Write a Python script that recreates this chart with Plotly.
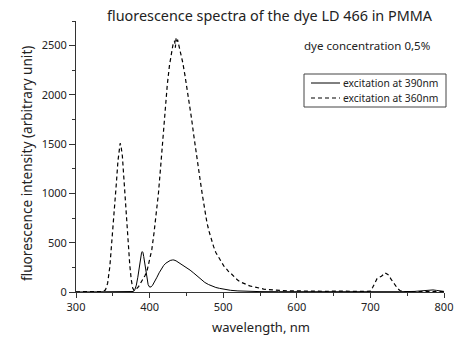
import plotly.graph_objects as go

# excitation at 390 nm (solid)
wl_390 = [300, 320, 340, 360, 370, 376, 378, 380, 382, 384, 386, 388, 389, 390, 391, 392, 394, 396, 398, 400, 402, 404,
          407, 410, 413, 416, 419, 422, 425, 428, 431, 433, 436, 440, 445, 450, 455, 460, 465, 470, 475, 480, 485,
          490, 495, 500, 505, 510, 520, 530, 540, 550, 575, 600, 650, 700, 740, 760, 770, 775,
          780, 785, 790, 795, 800]
int_390 = [0, 0, 0, 0, 0, 2, 5, 25, 70, 150, 260, 360, 395, 410, 400, 360, 260, 150, 75, 50, 52, 68,
           105, 150, 195, 235, 268, 292, 310, 320, 325, 325, 316, 298, 272, 245, 222, 192, 158, 122, 97, 76, 58,
           46, 37, 29, 22, 17, 11, 7, 5, 4, 3, 2, 2, 2, 3, 6, 14, 20,
           23, 21, 16, 10, 6]

# excitation at 360 nm (dashed)
wl_360 = [300, 310, 320, 330, 335, 340, 343, 346, 349, 352, 355, 357, 359, 360, 361, 363, 365,
          367, 369, 371, 373, 375, 377, 379, 382, 385, 388, 391, 394, 397, 400, 403, 406, 409,
          412, 415, 418, 421, 424, 427, 430, 432, 434, 435, 436, 437, 438, 440, 442, 445, 448,
          451, 454, 457, 460, 463, 466, 469, 472, 475, 478, 481, 484, 487, 490, 493, 496, 499,
          502, 505, 508, 511, 514, 517, 520, 524, 528, 532, 536, 540, 545, 550, 555, 560, 565,
          570, 575, 580, 590, 600, 610, 620, 630, 640, 650, 660, 670, 680, 690, 695, 700, 703,
          706, 709, 712, 715, 718, 720, 722, 725, 728, 731, 734, 737, 740, 743, 746, 750, 760,
          770, 780, 790, 800]
int_360 = [2, 4, 1, 3, 5, 20, 90, 260, 520, 820, 1120, 1330, 1480, 1510, 1490, 1380, 1160,
           920, 680, 460, 280, 130, 40, 15, 30, 55, 90, 135, 170, 230, 320, 430, 600, 780,
           1000, 1270, 1560, 1860, 2100, 2300, 2430, 2520, 2550, 2480, 2575, 2540, 2560, 2500, 2420, 2330, 2200,
           2060, 1930, 1760, 1590, 1420, 1250, 1120, 970, 830, 700, 610, 530, 460, 400, 360, 320, 290,
           250, 230, 200, 185, 160, 140, 118, 100, 85, 72, 62, 55, 45, 38, 30, 26, 22,
           18, 16, 14, 12, 10, 12, 8, 10, 7, 9, 6, 8, 7, 6, 5, 8, 45,
           95, 135, 150, 160, 180, 195, 185, 170, 130, 95, 65, 35, 15, 6, 4, 4, 5,
           4, 6, 5, 4]

series_names = ["excitation at 390nm", "excitation at 360nm"]
x_ticks = [300, 400, 500, 600, 700, 800]
y_ticks = [0, 500, 1000, 1500, 2000, 2500]

FONT = "Noto Sans"
TXT = "#222222"
L, R, T, B = 76, 26, 21, 46
PW, PH = 470 - L - R, 338 - T - B


def px(xp):
    return (xp - L) / PW


def py(yp):
    return 1 - (yp - T) / PH


DASH = "4px,3px"
fig = go.Figure()
fig.add_trace(go.Scatter(x=wl_390, y=int_390, mode="lines", name=series_names[0],
                         line=dict(color="black", width=1)))
fig.add_trace(go.Scatter(x=wl_360, y=int_360, mode="lines", name=series_names[1],
                         line=dict(color="black", width=1.2, dash=DASH)))

# hand-built legend box (to match the compact row spacing of the original)
shapes = [
    dict(type="rect", xref="paper", yref="paper", x0=px(304), x1=px(446), y0=py(107), y1=py(74),
         line=dict(color="#444444", width=1), fillcolor="white", layer="above"),
    dict(type="line", xref="paper", yref="paper", x0=px(311), x1=px(340), y0=py(83), y1=py(83),
         line=dict(color="black", width=1), layer="above"),
    dict(type="line", xref="paper", yref="paper", x0=px(311), x1=px(340), y0=py(98), y1=py(98),
         line=dict(color="black", width=1.2, dash=DASH), layer="above"),
]

fig.update_layout(
    width=470, height=338,
    margin=dict(l=L, r=R, t=T, b=B, autoexpand=False),
    paper_bgcolor="white", plot_bgcolor="white",
    font=dict(family=FONT, size=11, color=TXT),
    showlegend=False,
    shapes=shapes,
    xaxis=dict(range=[300, 800], tickvals=x_ticks, ticks="outside", ticklen=5,
               tickcolor="#333", showline=True, linecolor="#333", linewidth=1,
               showgrid=False, zeroline=False, mirror=False,
               minor=dict(dtick=50, ticks="outside", ticklen=3, tickcolor="#333", showgrid=False),
               tickfont=dict(size=11)),
    yaxis=dict(range=[0, 2750], tickvals=y_ticks, ticks="outside", ticklen=6,
               tickcolor="#333", showline=True, linecolor="#333", linewidth=1,
               showgrid=False, zeroline=False, mirror=False,
               minor=dict(dtick=250, ticks="outside", ticklen=3, tickcolor="#333", showgrid=False),
               tickfont=dict(size=11)),
    annotations=[
        dict(text="fluorescence spectra of the dye LD 466 in PMMA", x=px(270), y=py(15),
             xref="paper", yref="paper", xanchor="center", yanchor="middle",
             showarrow=False, font=dict(size=14.4)),
        dict(text="dye concentration 0,5%", x=px(432), y=py(46), xref="paper", yref="paper",
             xanchor="right", yanchor="middle", showarrow=False, font=dict(size=11.5)),
        dict(text="wavelength, nm", x=px(261), y=py(327), xref="paper", yref="paper",
             xanchor="center", yanchor="middle", showarrow=False, font=dict(size=13)),
        dict(text="fluorescence intensity (arbitrary unit)", x=px(26), y=py(164), xref="paper", yref="paper",
             xanchor="center", yanchor="middle", textangle=-90, showarrow=False, font=dict(size=13.6)),
        dict(text=series_names[0], x=px(341), y=py(83), xref="paper", yref="paper",
             xanchor="left", yanchor="middle", showarrow=False, font=dict(size=10.3)),
        dict(text=series_names[1], x=px(341), y=py(98), xref="paper", yref="paper",
             xanchor="left", yanchor="middle", showarrow=False, font=dict(size=10.3)),
    ],
)

fig.write_html("out.html", config={"displayModeBar": False},
               post_script="document.body.style.margin='0';document.body.style.overflow='hidden';")
